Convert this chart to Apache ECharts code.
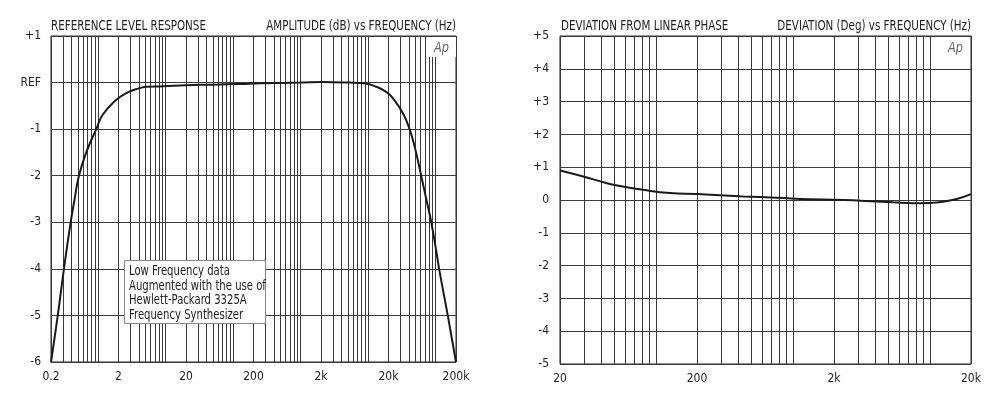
<!DOCTYPE html>
<html>
<head>
<meta charset="utf-8">
<script src="https://cdn.jsdelivr.net/npm/echarts@6/dist/echarts.min.js"></script>
<style>
html,body{margin:0;padding:0;background:#fff;}
#chart{width:1000px;height:396px;}
</style>
</head>
<body>
<div id="chart"></div>
<script>
// ---- Data ----
const leftTitle = "REFERENCE LEVEL RESPONSE";
const leftSubtitle = "AMPLITUDE (dB) vs FREQUENCY (Hz)";
const rightTitle = "DEVIATION FROM LINEAR PHASE";
const rightSubtitle = "DEVIATION (Deg) vs FREQUENCY (Hz)";

const leftFreqLabels = [0.2, 2, 20, 200, 2000, 20000, 200000];
const rightFreqLabels = [20, 200, 2000, 20000];

const leftFreq = [0.2, 0.252, 0.311, 0.391, 0.448, 0.519, 0.666, 0.936, 1.18, 1.85, 2.75, 4.15, 5.2, 9.2, 20, 50, 125, 250, 970, 2100, 5300, 8600, 13200, 18500, 23200, 32700, 41000, 48700, 61000, 72500, 86000, 102000, 114000, 151000, 200000];
const leftDb = [-6.0, -5.0, -4.0, -3.0, -2.5, -2.0, -1.5, -1.0, -0.68, -0.37, -0.21, -0.12, -0.09, -0.08, -0.055, -0.045, -0.03, -0.015, 0.0, 0.01, 0.0, -0.015, -0.09, -0.2, -0.335, -0.66, -1.0, -1.37, -2.0, -2.5, -3.0, -3.62, -4.05, -5.0, -6.0];

const rightFreq = [20, 30, 40, 50, 81, 127, 200, 436, 764, 1336, 2000, 3100, 5420, 7590, 10000, 12600, 15700, 20000];
const rightDeg = [0.9, 0.71, 0.56, 0.46, 0.31, 0.21, 0.18, 0.11, 0.07, 0.02, 0.01, -0.02, -0.07, -0.10, -0.09, -0.05, 0.03, 0.18];

const noteLines = ["Low Frequency data", "Augmented with the use of", "Hewlett-Packard 3325A", "Frequency Synthesizer"];

// ---- Helpers ----
const FONT = "'DejaVu Sans Condensed','Liberation Sans Narrow','Arial Narrow',sans-serif";
function logGrid(fmin, fmax) {
  const out = [];
  for (let e = -2; e <= 6; e++) {
    for (let m = 1; m <= 9; m++) {
      const v = +(m * Math.pow(10, e)).toPrecision(6);
      if (v >= fmin * 0.999 && v <= fmax * 1.001) out.push(v);
    }
  }
  return out;
}
function freqFmt(v) {
  if (v >= 1000) return (+(v / 1000).toPrecision(6)) + 'k';
  return String(+v.toPrecision(6));
}
function pairs(xs, ys) { return xs.map((x, i) => [x, ys[i]]); }
function header(text, x, align) {
  return {type: 'text', x: x, y: 19, scaleX: 0.82, z: 20, silent: true,
    style: {text: text, font: '14px ' + FONT, fill: '#222', textAlign: align, textVerticalAlign: 'top'}};
}

const chart = echarts.init(document.getElementById('chart'), null, {renderer: 'canvas'});
const gridLine = {show: true, lineStyle: {color: '#3a3a3a', width: 1}};
const labelStyle = {color: '#222', fontSize: 12, fontFamily: FONT};

const option = {
  backgroundColor: '#fff',
  animation: false,
  grid: [
    {left: 51, top: 36, width: 405, height: 326, show: true, borderColor: '#222', borderWidth: 1, containLabel: false},
    {left: 560, top: 36, width: 411, height: 328, show: true, borderColor: '#222', borderWidth: 1, containLabel: false}
  ],
  xAxis: [
    {
      gridIndex: 0, type: 'log', logBase: 10, min: 0.2, max: 200000,
      axisLine: {show: false}, axisTick: {show: false, customValues: logGrid(0.2, 200000)},
      splitLine: gridLine,
      axisLabel: Object.assign({margin: 9, customValues: leftFreqLabels, formatter: freqFmt, showMinLabel: true, showMaxLabel: true}, labelStyle)
    },
    {
      gridIndex: 1, type: 'log', logBase: 10, min: 20, max: 20000,
      axisLine: {show: false}, axisTick: {show: false, customValues: logGrid(20, 20000)},
      splitLine: gridLine,
      axisLabel: Object.assign({margin: 9, customValues: rightFreqLabels, formatter: freqFmt, showMinLabel: true, showMaxLabel: true}, labelStyle)
    }
  ],
  yAxis: [
    {
      gridIndex: 0, type: 'value', min: -6, max: 1, interval: 1,
      axisLine: {show: false}, axisTick: {show: false},
      splitLine: gridLine,
      axisLabel: Object.assign({margin: 10, formatter: v => v === 0 ? 'REF' : (v > 0 ? '+' + v : String(v))}, labelStyle)
    },
    {
      gridIndex: 1, type: 'value', min: -5, max: 5, interval: 1,
      axisLine: {show: false}, axisTick: {show: false},
      splitLine: gridLine,
      axisLabel: Object.assign({margin: 11, formatter: v => v > 0 ? '+' + v : String(v)}, labelStyle)
    }
  ],
  series: [
    {
      type: 'line', xAxisIndex: 0, yAxisIndex: 0, data: pairs(leftFreq, leftDb),
      showSymbol: false, smooth: 0.5, lineStyle: {color: '#1a1a1a', width: 2}, silent: true, z: 5
    },
    {
      type: 'line', xAxisIndex: 1, yAxisIndex: 1, data: pairs(rightFreq, rightDeg),
      showSymbol: false, smooth: 0.5, lineStyle: {color: '#1a1a1a', width: 2}, silent: true, z: 5
    }
  ],
  graphic: [
    header(leftTitle, 51, 'left'),
    header(leftSubtitle, 456, 'right'),
    header(rightTitle, 561, 'left'),
    header(rightSubtitle, 971, 'right'),
    {type: 'rect', shape: {x: 428, y: 37, width: 28, height: 20}, style: {fill: '#fff'}, z: 10, silent: true},
    {type: 'text', x: 434, y: 41, scaleX: 0.9, style: {text: 'Ap', font: 'italic 14px ' + FONT, fill: '#666'}, z: 11, silent: true},
    {type: 'text', x: 948, y: 41, scaleX: 0.9, style: {text: 'Ap', font: 'italic 14px ' + FONT, fill: '#666'}, z: 11, silent: true},
    {type: 'rect', shape: {x: 124.5, y: 260.5, width: 141, height: 63}, style: {fill: '#fff', stroke: '#888', lineWidth: 1}, z: 12, silent: true},
    {type: 'text', x: 129, y: 264.5, scaleX: 0.8, style: {text: noteLines.join('\n'), font: '14px ' + FONT, fill: '#222', lineHeight: 14.5}, z: 13, silent: true}
  ]
};
chart.setOption(option);
</script>
</body>
</html>
